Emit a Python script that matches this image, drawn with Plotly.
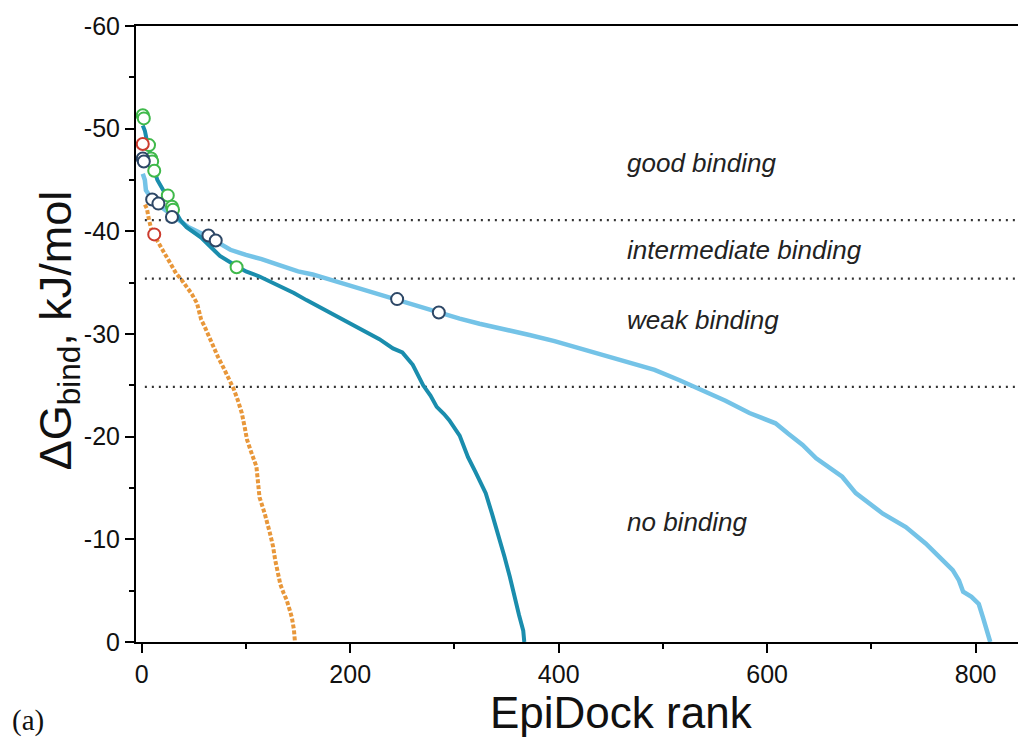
import plotly.graph_objects as go

# ---- data ----
light_rank = [1, 3, 4, 7, 10, 16, 22, 30, 37, 45, 55, 64, 75, 85, 100, 115, 132, 150, 164, 196, 228, 246,
              265, 285, 305, 324, 348, 372, 396, 420, 444, 468, 492, 516, 540, 560, 583, 608, 620, 634, 647,
              660, 672, 685, 698, 711, 733, 752, 768, 778, 784, 788, 796, 803, 807, 811, 814]
light_dg = [-45.6, -45.0, -44.0, -43.5, -43.1, -42.6, -42.1, -41.5, -41.0, -40.4, -39.9, -39.5, -38.8, -38.2,
            -37.7, -37.3, -36.7, -36.1, -35.8, -34.8, -33.9, -33.3, -32.7, -32.1, -31.5, -31.0, -30.5, -29.9,
            -29.3, -28.6, -28.0, -27.3, -26.5, -25.5, -24.4, -23.5, -22.3, -21.3, -20.3, -19.2, -17.9, -17.0,
            -16.1, -14.5, -13.5, -12.5, -11.2, -9.6, -8.0, -7.0, -6.0, -4.9, -4.4, -3.7, -2.4, -1.2, 0.0]

teal_rank = [1, 3, 5, 8, 12, 15, 19, 25, 30, 37, 43, 50, 57, 65, 75, 88, 100, 113, 132, 146, 158, 176, 196,
             212, 228, 241, 250, 260, 265, 270, 277, 283, 290, 295, 305, 313, 320, 326, 330, 336, 342, 348,
             353, 358, 362, 366, 367]
teal_dg = [-50.3, -49.8, -48.8, -47.5, -46.0, -45.0, -44.3, -43.2, -42.3, -41.1, -40.4, -39.9, -39.4, -38.6,
           -37.6, -36.8, -36.1, -35.6, -34.7, -34.0, -33.3, -32.3, -31.2, -30.3, -29.5, -28.6, -28.2, -27.0,
           -26.0, -25.0, -24.0, -22.9, -22.2, -21.6, -20.1, -18.0, -16.6, -15.2, -14.5, -12.5, -10.5, -8.3,
           -6.4, -4.1, -2.6, -1.1, 0.0]

orange_rank = [3, 5, 7, 9, 12, 16, 20, 25, 29, 33, 38, 43, 48, 53, 57, 60, 64, 69, 73, 78, 83, 88, 92, 96,
               99, 101, 105, 110, 113, 116, 118, 123, 126, 128, 131, 133, 136, 139, 142, 144, 146, 147]
orange_dg = [-42.6, -42.2, -41.1, -40.3, -39.6, -38.9, -38.2, -37.2, -36.5, -35.9, -35.3, -34.6, -33.9, -33.0,
             -31.4, -30.8, -29.8, -28.7, -27.8, -26.8, -25.8, -24.7, -23.6, -22.3, -20.8, -19.7, -18.5, -17.1,
             -14.1, -13.2, -12.5, -10.6, -9.3, -8.0, -6.5, -5.6, -4.8, -4.1, -3.1, -2.4, -1.2, 0.0]

green_rank = [1, 2, 7, 9, 10, 12, 25, 29, 30, 91]
green_dg = [-51.3, -51.0, -48.4, -47.1, -46.8, -45.9, -43.5, -42.4, -42.1, -36.5]
red_rank = [1, 12]
red_dg = [-48.5, -39.7]
navy_rank = [1, 2, 10, 16, 29, 64, 71, 245, 285]
navy_dg = [-47.1, -46.8, -43.1, -42.7, -41.4, -39.6, -39.1, -33.4, -32.1]

thresholds = [-41.1, -35.4, -24.85]
region_labels = ["good binding", "intermediate binding", "weak binding", "no binding"]
region_label_y = [-46.65, -38.2, -31.4, -11.7]
region_label_x = 464

x_tickvals = [0, 200, 400, 600, 800]
y_tickvals = [-60, -50, -40, -30, -20, -10, 0]
y_ticktext = ["-60", "-50", "-40", "-30", "-20", "-10", "0"]

FONT = "Liberation Sans, Arial, sans-serif"

fig = go.Figure()
fig.add_trace(go.Scatter(x=light_rank, y=light_dg, mode="lines",
                         line=dict(color="#74c3e7", width=4.5), showlegend=False))
fig.add_trace(go.Scatter(x=teal_rank, y=teal_dg, mode="lines",
                         line=dict(color="#1a8dad", width=4), showlegend=False))
fig.add_trace(go.Scatter(x=orange_rank, y=orange_dg, mode="lines",
                         line=dict(color="#e8973a", width=4, dash="4px,2px"), showlegend=False))

for xs, ys, col in [(green_rank, green_dg, "#3fb94a"), (red_rank, red_dg, "#cc3b2e"),
                    (navy_rank, navy_dg, "#2d4766")]:
    fig.add_trace(go.Scatter(x=xs, y=ys, mode="markers", showlegend=False,
                             marker=dict(symbol="circle", size=12, color="white",
                                         line=dict(color=col, width=2))))

for v in thresholds:
    fig.add_shape(type="line", xref="x", yref="y", x0=3, x1=848, y0=v, y1=v,
                  line=dict(color="#333333", width=2.2, dash="2px,5px"), layer="below")

for txt, yy in zip(region_labels, region_label_y):
    fig.add_annotation(x=region_label_x, y=yy, xref="x", yref="y", text=f"<i>{txt}</i>",
                       showarrow=False, xanchor="left", yanchor="middle",
                       font=dict(family=FONT, size=26, color="#222222"))

fig.add_annotation(x=0.546, y=-0.114, xref="paper", yref="paper", text="EpiDock rank",
                   showarrow=False, xanchor="center", yanchor="middle",
                   font=dict(family=FONT, size=44, color="#111111"))
fig.add_annotation(x=-0.0876, y=0.506, xref="paper", yref="paper",
                   text="ΔG<sub>bind</sub>, kJ/mol", textangle=-90,
                   showarrow=False, xanchor="center", yanchor="middle",
                   font=dict(family=FONT, size=45, color="#111111"))
fig.add_annotation(x=-0.1416, y=-0.127, xref="paper", yref="paper", text="(a)",
                   showarrow=False, xanchor="left", yanchor="middle",
                   font=dict(family="Liberation Serif, Times New Roman, serif", size=29, color="#111111"))

# the page adds an 8 px body margin, so the figure is made 8 px smaller on the left/top side
fig.update_layout(
    width=1018, height=735,
    margin=dict(l=128, r=0, t=18, b=101.3),
    paper_bgcolor="white", plot_bgcolor="white",
    xaxis=dict(range=[-5.5, 848.3], showline=True, linecolor="black", linewidth=2, mirror=True,
               ticks="outside", ticklen=9, tickwidth=2, tickcolor="black",
               tickvals=x_tickvals, showgrid=False, zeroline=False,
               tickfont=dict(family=FONT, size=25, color="#111111"),
               minor=dict(ticks="outside", ticklen=5, tickwidth=1.5, tickcolor="black",
                          dtick=100, tick0=0, showgrid=False)),
    yaxis=dict(range=[0, -60], showline=True, linecolor="black", linewidth=2,
               ticks="outside", ticklen=9, tickwidth=2, tickcolor="black",
               tickvals=y_tickvals, ticktext=y_ticktext, showgrid=False, zeroline=False,
               tickfont=dict(family=FONT, size=25, color="#111111"),
               minor=dict(ticks="outside", ticklen=5, tickwidth=1.5, tickcolor="black",
                          dtick=5, tick0=0, showgrid=False)),
)

fig.write_html("out.html")
